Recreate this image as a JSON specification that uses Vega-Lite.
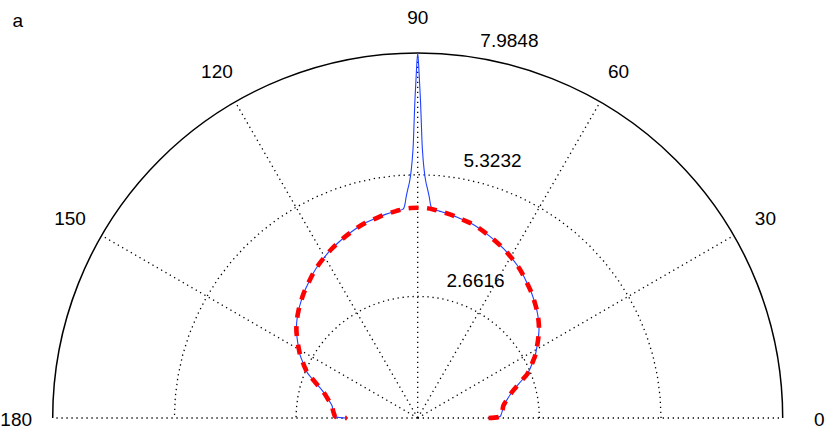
{
  "$schema": "https://vega.github.io/schema/vega-lite/v6.json",
  "width": 830,
  "height": 446,
  "autosize": {"type": "none"},
  "padding": 0,
  "background": "white",
  "config": {"view": {"stroke": null}},
  "title": {"text": "a", "anchor": "start", "frame": "group", "orient": "top", "offset": 0, "dx": 12.5, "dy": 46, "baseline": "alphabetic", "fontSize": 19, "font": "Liberation Sans", "fontWeight": "normal", "color": "black"},
  "datasets": {
    "gridangles": [
      {"t": 0}, {"t": 5}, {"t": 10}, {"t": 15}, {"t": 20}, {"t": 25}, {"t": 30}, {"t": 35}, {"t": 40}, {"t": 45},
      {"t": 50}, {"t": 55}, {"t": 60}, {"t": 65}, {"t": 70}, {"t": 75}, {"t": 80}, {"t": 85}, {"t": 90}, {"t": 95},
      {"t": 100}, {"t": 105}, {"t": 110}, {"t": 115}, {"t": 120}, {"t": 125}, {"t": 130}, {"t": 135}, {"t": 140}, {"t": 145},
      {"t": 150}, {"t": 155}, {"t": 160}, {"t": 165}, {"t": 170}, {"t": 175}, {"t": 180}
    ],
    "curves": [
      {"s": "base", "t": 0, "r": 1.55}, {"s": "base", "t": 1, "r": 1.80}, {"s": "base", "t": 3, "r": 1.835}, {"s": "base", "t": 6, "r": 1.87},
      {"s": "base", "t": 8, "r": 1.89}, {"s": "base", "t": 10, "r": 1.94}, {"s": "base", "t": 12, "r": 2.01}, {"s": "base", "t": 14, "r": 2.08},
      {"s": "base", "t": 16, "r": 2.17}, {"s": "base", "t": 18, "r": 2.29}, {"s": "base", "t": 20, "r": 2.43}, {"s": "base", "t": 22, "r": 2.59},
      {"s": "base", "t": 24, "r": 2.70}, {"s": "base", "t": 26, "r": 2.80}, {"s": "base", "t": 28, "r": 2.91}, {"s": "base", "t": 30, "r": 3.00},
      {"s": "base", "t": 33, "r": 3.14}, {"s": "base", "t": 36, "r": 3.28}, {"s": "base", "t": 39, "r": 3.40}, {"s": "base", "t": 42, "r": 3.51},
      {"s": "base", "t": 45, "r": 3.61}, {"s": "base", "t": 48, "r": 3.71}, {"s": "base", "t": 51, "r": 3.80}, {"s": "base", "t": 54, "r": 3.90},
      {"s": "base", "t": 57, "r": 3.99}, {"s": "base", "t": 60, "r": 4.07}, {"s": "base", "t": 63, "r": 4.15}, {"s": "base", "t": 66, "r": 4.22},
      {"s": "base", "t": 69, "r": 4.29}, {"s": "base", "t": 72, "r": 4.36}, {"s": "base", "t": 75, "r": 4.42}, {"s": "base", "t": 78, "r": 4.46},
      {"s": "base", "t": 81, "r": 4.51}, {"s": "base", "t": 84, "r": 4.55}, {"s": "base", "t": 86, "r": 4.58}, {"s": "base", "t": 88, "r": 4.595},
      {"s": "base", "t": 90, "r": 4.60},
      {"s": "base", "t": 92, "r": 4.595}, {"s": "base", "t": 94, "r": 4.58}, {"s": "base", "t": 96, "r": 4.55}, {"s": "base", "t": 99, "r": 4.51},
      {"s": "base", "t": 102, "r": 4.46}, {"s": "base", "t": 105, "r": 4.42}, {"s": "base", "t": 108, "r": 4.36}, {"s": "base", "t": 111, "r": 4.29},
      {"s": "base", "t": 114, "r": 4.22}, {"s": "base", "t": 117, "r": 4.15}, {"s": "base", "t": 120, "r": 4.07}, {"s": "base", "t": 123, "r": 3.99},
      {"s": "base", "t": 126, "r": 3.90}, {"s": "base", "t": 129, "r": 3.80}, {"s": "base", "t": 132, "r": 3.71}, {"s": "base", "t": 135, "r": 3.61},
      {"s": "base", "t": 138, "r": 3.51}, {"s": "base", "t": 141, "r": 3.40}, {"s": "base", "t": 144, "r": 3.28}, {"s": "base", "t": 147, "r": 3.14},
      {"s": "base", "t": 150, "r": 3.00}, {"s": "base", "t": 152, "r": 2.91}, {"s": "base", "t": 154, "r": 2.80}, {"s": "base", "t": 156, "r": 2.70},
      {"s": "base", "t": 158, "r": 2.59}, {"s": "base", "t": 160, "r": 2.43}, {"s": "base", "t": 162, "r": 2.29}, {"s": "base", "t": 164, "r": 2.17},
      {"s": "base", "t": 166, "r": 2.08}, {"s": "base", "t": 168, "r": 2.01}, {"s": "base", "t": 170, "r": 1.94}, {"s": "base", "t": 172, "r": 1.89},
      {"s": "base", "t": 174, "r": 1.87}, {"s": "base", "t": 177, "r": 1.835}, {"s": "base", "t": 179, "r": 1.80}, {"s": "base", "t": 180, "r": 1.55},
      {"s": "spike", "t": 86.5, "r": 4.66}, {"s": "spike", "t": 87, "r": 4.84}, {"s": "spike", "t": 87.5, "r": 5.00}, {"s": "spike", "t": 88, "r": 5.16},
      {"s": "spike", "t": 88.5, "r": 5.42}, {"s": "spike", "t": 89, "r": 5.88}, {"s": "spike", "t": 89.25, "r": 6.35}, {"s": "spike", "t": 89.5, "r": 6.95},
      {"s": "spike", "t": 89.75, "r": 7.50}, {"s": "spike", "t": 90, "r": 7.9848}, {"s": "spike", "t": 90.25, "r": 7.50}, {"s": "spike", "t": 90.5, "r": 6.95},
      {"s": "spike", "t": 90.75, "r": 6.35}, {"s": "spike", "t": 91, "r": 5.88}, {"s": "spike", "t": 91.5, "r": 5.42}, {"s": "spike", "t": 92, "r": 5.16},
      {"s": "spike", "t": 92.5, "r": 5.00}, {"s": "spike", "t": 93, "r": 4.84}, {"s": "spike", "t": 93.5, "r": 4.66}
    ]
  },
  "layer": [
    {
      "data": {"name": "gridangles"},
      "transform": [
        {"calculate": "2.6616 * cos(datum.t * PI / 180)", "as": "gx"},
        {"calculate": "2.6616 * sin(datum.t * PI / 180)", "as": "gy"}
      ],
      "mark": {"type": "line", "stroke": "black", "strokeWidth": 1.3, "strokeDash": [1.3, 3.7]},
      "encoding": {
        "x": {"field": "gx", "type": "quantitative", "scale": {"domain": [-9.1376, 9.0195], "nice": false, "zero": false}, "axis": null},
        "y": {"field": "gy", "type": "quantitative", "scale": {"domain": [-0.6125, 9.1442], "nice": false, "zero": false}, "axis": null},
        "order": {"field": "t", "type": "quantitative"}
      }
    },
    {
      "data": {"name": "gridangles"},
      "transform": [
        {"calculate": "5.3232 * cos(datum.t * PI / 180)", "as": "gx"},
        {"calculate": "5.3232 * sin(datum.t * PI / 180)", "as": "gy"}
      ],
      "mark": {"type": "line", "stroke": "black", "strokeWidth": 1.3, "strokeDash": [1.3, 3.7]},
      "encoding": {
        "x": {"field": "gx", "type": "quantitative"},
        "y": {"field": "gy", "type": "quantitative"},
        "order": {"field": "t", "type": "quantitative"}
      }
    },
    {
      "data": {"values": [{"t": 0, "r0": 0, "r1": 7.9848}, {"t": 30, "r0": 0, "r1": 7.9848}, {"t": 60, "r0": 0, "r1": 7.9848}, {"t": 90, "r0": 0, "r1": 7.9848}, {"t": 120, "r0": 0, "r1": 7.9848}, {"t": 150, "r0": 0, "r1": 7.9848}, {"t": 180, "r0": 0, "r1": 7.9848}]},
      "transform": [
        {"calculate": "datum.r0 * cos(datum.t * PI / 180)", "as": "xs"},
        {"calculate": "datum.r0 * sin(datum.t * PI / 180)", "as": "ys"},
        {"calculate": "datum.r1 * cos(datum.t * PI / 180)", "as": "xe"},
        {"calculate": "datum.r1 * sin(datum.t * PI / 180)", "as": "ye"}
      ],
      "mark": {"type": "rule", "stroke": "black", "strokeWidth": 1.3, "strokeDash": [1.3, 3.7]},
      "encoding": {
        "x": {"field": "xs", "type": "quantitative"},
        "y": {"field": "ys", "type": "quantitative"},
        "x2": {"field": "xe"},
        "y2": {"field": "ye"}
      }
    },
    {
      "data": {"values": [{"r": 7.9848, "a0": 0, "a1": 180}]},
      "transform": [{"calculate": "0", "as": "c"}],
      "mark": {"type": "arc", "filled": false, "stroke": "black", "strokeWidth": 1.5},
      "encoding": {
        "x": {"field": "c", "type": "quantitative"},
        "y": {"field": "c", "type": "quantitative"},
        "theta": {"field": "a0", "type": "quantitative", "stack": null, "scale": {"domain": [0, 180], "range": [1.5707963, -1.5707963]}},
        "theta2": {"field": "a1"},
        "radius": {"field": "r", "type": "quantitative", "scale": {"type": "linear", "domain": [0, 7.9848], "range": [0, 365], "zero": true, "nice": false}},
        "radius2": {"field": "r"}
      }
    },
    {
      "data": {"name": "curves"},
      "transform": [
        {"filter": "datum.s == 'spike' || datum.t <= 86 || datum.t >= 94"},
        {"calculate": "datum.r * cos(datum.t * PI / 180)", "as": "px"},
        {"calculate": "datum.r * sin(datum.t * PI / 180)", "as": "py"}
      ],
      "mark": {"type": "line", "stroke": "#2040ff", "strokeWidth": 1.1, "interpolate": "catmull-rom"},
      "encoding": {
        "x": {"field": "px", "type": "quantitative"},
        "y": {"field": "py", "type": "quantitative"},
        "order": {"field": "t", "type": "quantitative"}
      }
    },
    {
      "data": {"name": "curves"},
      "transform": [
        {"filter": "datum.s == 'base'"},
        {"calculate": "datum.r * cos(datum.t * PI / 180)", "as": "px"},
        {"calculate": "datum.r * sin(datum.t * PI / 180)", "as": "py"}
      ],
      "mark": {"type": "line", "stroke": "#ff0000", "strokeWidth": 4.6, "strokeDash": [10, 8.5], "strokeCap": "butt", "interpolate": "catmull-rom"},
      "encoding": {
        "x": {"field": "px", "type": "quantitative"},
        "y": {"field": "py", "type": "quantitative"},
        "order": {"field": "t", "type": "quantitative"}
      }
    },
    {
      "data": {"values": [{"t": 0, "label": "0"}, {"t": 30, "label": "30"}, {"t": 60, "label": "60"}, {"t": 90, "label": "90"}, {"t": 120, "label": "120"}, {"t": 150, "label": "150"}, {"t": 180, "label": "180"}]},
      "transform": [
        {"calculate": "8.78328 * cos(datum.t * PI / 180)", "as": "lx"},
        {"calculate": "8.78328 * sin(datum.t * PI / 180)", "as": "ly"}
      ],
      "mark": {"type": "text", "align": "center", "baseline": "middle", "dy": 2, "fontSize": 19, "font": "Liberation Sans", "color": "black"},
      "encoding": {
        "x": {"field": "lx", "type": "quantitative"},
        "y": {"field": "ly", "type": "quantitative"},
        "text": {"field": "label"}
      }
    },
    {
      "data": {"values": [{"r": 2.6616, "label": "2.6616"}, {"r": 5.3232, "label": "5.3232"}, {"r": 7.9848, "label": "7.9848"}]},
      "transform": [
        {"calculate": "(datum.r + 0.13308) * cos(82 * PI / 180)", "as": "lx"},
        {"calculate": "(datum.r + 0.13308) * sin(82 * PI / 180)", "as": "ly"}
      ],
      "mark": {"type": "text", "align": "left", "baseline": "bottom", "dx": 11, "fontSize": 19, "font": "Liberation Sans", "color": "black"},
      "encoding": {
        "x": {"field": "lx", "type": "quantitative"},
        "y": {"field": "ly", "type": "quantitative"},
        "text": {"field": "label"}
      }
    }
  ]
}
